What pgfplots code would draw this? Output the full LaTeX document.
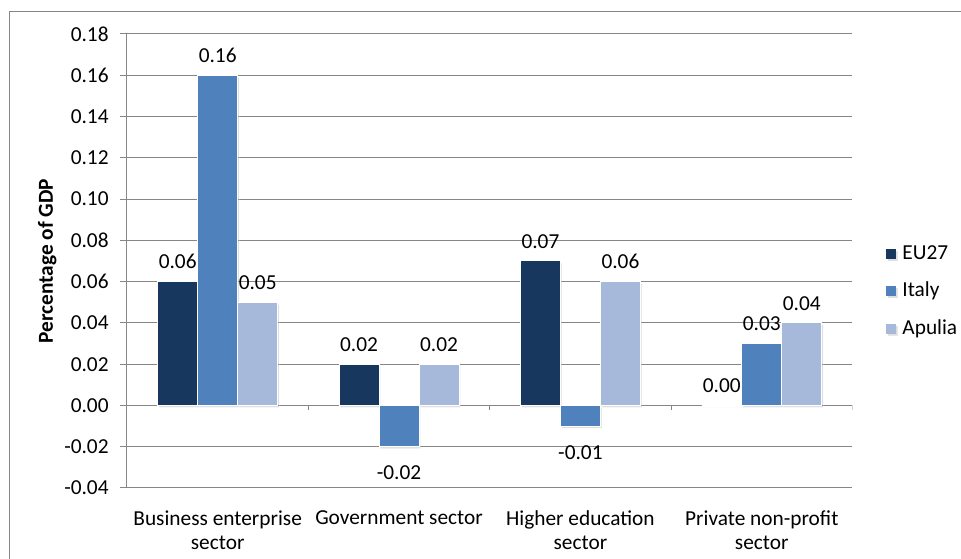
\documentclass[border=0pt]{standalone}
\usepackage{fontspec}
\setmainfont{Carlito}
\usepackage{pgfplots}
\pgfplotsset{compat=1.18}
\usetikzlibrary{shadows}
\definecolor{eu}{RGB}{23,55,94}
\definecolor{it}{RGB}{79,129,189}
\definecolor{ap}{RGB}{167,185,218}
\definecolor{gridc}{RGB}{134,134,134}
\newcommand{\cf}{\fontsize{16}{18}\selectfont}
\begin{document}
\begin{tikzpicture}[x=1pt,y=1pt]
\useasboundingbox (0,0) rectangle (720.75,419.25);
\draw[gridc, line width=0.75pt] (6.75,-5) -- (6.75,410.25) -- (730,410.25);
\begin{axis}[
  at={(95.25pt,53.25pt)}, anchor=south west,
  scale only axis, width=544.1pt, height=340.5pt,
  xmin=-0.5, xmax=3.5, ymin=-0.04, ymax=0.18,
  axis y line*=left, axis x line*=bottom,
  x axis line style={draw=none},
  y axis line style={gridc, line width=0.75pt, -},
  ybar=0pt, bar width=30pt,
  xtick={0,1,2,3},
  xticklabels={{Business enterprise\\sector},{Government sector},{Higher education\\sector},{Private non-profit\\sector}},
  x tick label style={align=center, font=\cf, yshift=-8pt},
  x tick style={draw=none},
  ytick={-0.04,-0.02,0,0.02,0.04,0.06,0.08,0.10,0.12,0.14,0.16,0.18},
  scaled y ticks=false,
  y tick label style={font=\cf, xshift=-5pt, /pgf/number format/.cd, fixed, fixed zerofill, precision=2, assume math mode=true},
  y tick style={gridc, line width=0.75pt},
  tick align=outside, major tick length=5.25pt,
  ymajorgrids, grid style={gridc, line width=0.75pt},
  ylabel={Percentage of GDP},
  ylabel style={font=\cf\bfseries, at={(axis description cs:-0.11,0.5)}, anchor=center},
  nodes near coords={\pgfmathprintnumber[fixed,fixed zerofill,precision=2,assume math mode=true]{\pgfplotspointmeta}},
  nodes near coords align=vertical,
  visualization depends on={rawy \as \rawy},
  every node near coord/.append style={font=\cf, text=black, inner ysep=9pt, yshift={-5*(\rawy<0)}},
  legend cell align=left,
  legend style={at={(1,0.433)}, anchor=west, xshift=25.5pt, draw=none, fill=none,
    inner sep=0pt, outer sep=0pt, font=\cf, row sep=14pt,
    nodes={inner sep=0pt, text height=11pt, text depth=3pt},
    /tikz/every odd column/.append style={column sep=4.5pt}},
  sq/.style={legend image code/.code={\fill[##1, draw=none] (0pt,-3.75pt) rectangle (7.5pt,3.75pt);}},
  barst/.style={draw=white, line width=0.75pt, drop shadow={opacity=0.25, shadow xshift=1pt, shadow yshift=-1.5pt}},
]
\addplot[fill=eu, barst, sq] coordinates {(0,0.06) (1,0.02) (2,0.07) (3,0.00)};
\addplot[fill=it, barst, sq] coordinates {(0,0.16) (1,-0.02) (2,-0.01) (3,0.03)};
\addplot[fill=ap, barst, sq] coordinates {(0,0.05) (1,0.02) (2,0.06) (3,0.04)};
\legend{EU27, Italy, Apulia}
\foreach \t in {0.5,1.5,2.5,3.5} {\edef\tmp{\noexpand\draw[gridc, line width=0.75pt] (axis cs:\t,0) -- ([yshift=-3.75pt]axis cs:\t,0);}\tmp}
\end{axis}
\end{tikzpicture}
\end{document}
